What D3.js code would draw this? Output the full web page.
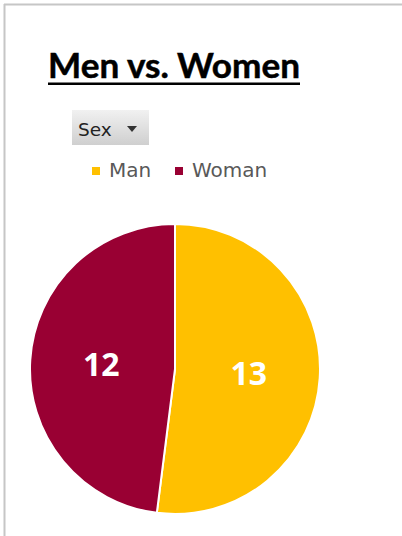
<!DOCTYPE html>
<html>
<head>
<meta charset="utf-8">
<script src="https://cdn.jsdelivr.net/npm/d3@7"></script>
<style>
  html, body { margin: 0; padding: 0; background: #fff; }
  svg { display: block; }
</style>
</head>
<body>
<svg id="chart" width="402" height="536"></svg>
<script>
// pie data
const categories = ["Man", "Woman"];
const counts = [13, 12];
const colors = ["#FFC000", "#990033"];
const title = "Men vs. Women";
const fieldLabel = "Sex";

const svg = d3.select("#chart");
const width = 402, height = 536;

// frame (only top and left edges visible)
svg.append("line")
    .attr("x1", 4).attr("y1", 4.5).attr("x2", width).attr("y2", 4.5)
    .attr("stroke", "#c6c6c6").attr("stroke-width", 2);
svg.append("line")
    .attr("x1", 4.5).attr("y1", 4).attr("x2", 4.5).attr("y2", height)
    .attr("stroke", "#c6c6c6").attr("stroke-width", 2);

// title, underlined
let titleText = svg.append("text")
    .attr("x", 48).attr("y", 78)
    .style("font-family", "Lato, 'Open Sans', sans-serif")
    .style("font-weight", "bold")
    .style("font-size", "34px")
    .attr("fill", "#000")
    .attr("stroke", "#000").attr("stroke-width", 0.5)
    .text(title);
titleText.attr("textLength", 252).attr("lengthAdjust", "spacingAndGlyphs");
svg.append("rect")
    .attr("x", 48).attr("y", 82.5)
    .attr("width", 252).attr("height", 2.5)
    .attr("fill", "#000");

// field button
let grad = svg.append("defs").append("linearGradient")
    .attr("id", "btn").attr("x1", 0).attr("y1", 0).attr("x2", 0).attr("y2", 1);
grad.append("stop").attr("offset", "0%").attr("stop-color", "#f1f1f1");
grad.append("stop").attr("offset", "100%").attr("stop-color", "#cfcfcf");

let btn = svg.append("g").attr("transform", "translate(72,110)");
btn.append("rect")
    .attr("width", 77).attr("height", 35)
    .attr("fill", "url(#btn)");
btn.append("text")
    .attr("x", 6).attr("y", 26)
    .style("font-family", "'DejaVu Sans', sans-serif")
    .style("font-size", "18.5px")
    .attr("fill", "#222")
    .text(fieldLabel);
btn.append("path")
    .attr("d", "M55,16 L65,16 L60,22 Z")
    .attr("fill", "#333");

// legend
let legendX = d3.scaleOrdinal().domain(categories).range([92, 175]);
let legend = svg.selectAll(".legend")
    .data(categories)
    .enter().append("g")
    .attr("class", "legend")
    .attr("transform", d => `translate(${legendX(d)},167)`);
legend.append("rect")
    .attr("width", 8).attr("height", 8)
    .attr("fill", (d, i) => colors[i]);
legend.append("text")
    .attr("x", 17).attr("y", 9.5)
    .style("font-family", "'DejaVu Sans', sans-serif")
    .style("font-size", "20px")
    .attr("fill", "#595959")
    .text(d => d);

// pie
let cx = 175, cy = 369, radius = 145;
let pie = d3.pie().sort(null).value(d => d);
let arc = d3.arc().innerRadius(0).outerRadius(radius);
let slices = pie(counts);

let g = svg.append("g").attr("transform", `translate(${cx},${cy})`);
g.selectAll("path")
    .data(slices)
    .enter().append("path")
    .attr("d", arc)
    .attr("fill", (d, i) => colors[i])
    .attr("stroke", "#fff")
    .attr("stroke-width", 2);

// data labels
let labelArc = d3.arc().innerRadius(radius * 0.51).outerRadius(radius * 0.51);
g.selectAll(".lbl")
    .data(slices)
    .enter().append("text")
    .attr("class", "lbl")
    .attr("transform", d => `translate(${labelArc.centroid(d)})`)
    .attr("text-anchor", "middle")
    .attr("dy", "0.36em")
    .style("font-family", "'Open Sans', sans-serif")
    .style("font-weight", "bold")
    .style("font-size", "32px")
    .attr("fill", "#fff")
    .text(d => d.data);
</script>
</body>
</html>
